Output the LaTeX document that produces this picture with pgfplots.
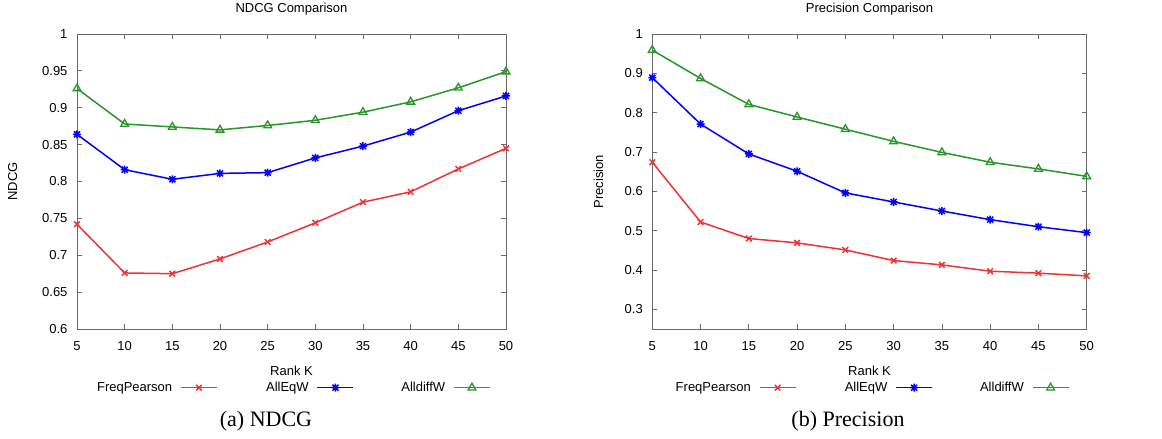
\documentclass[border=0pt]{standalone}
\usepackage{fontspec}
\setmainfont{Liberation Sans}
\newfontfamily\capfont{Liberation Serif}
\usepackage{pgfplots}
\pgfplotsset{compat=1.18}
\definecolor{gpred}{RGB}{240,50,50}
\definecolor{gpblue}{RGB}{0,0,255}
\definecolor{gpgreen}{RGB}{40,150,40}
\definecolor{frame}{RGB}{105,105,105}
\pgfdeclareplotmark{gpstar}{%
  \pgfpathmoveto{\pgfqpoint{-\pgfplotmarksize}{0pt}}\pgfpathlineto{\pgfqpoint{\pgfplotmarksize}{0pt}}%
  \pgfpathmoveto{\pgfqpoint{0pt}{-\pgfplotmarksize}}\pgfpathlineto{\pgfqpoint{0pt}{\pgfplotmarksize}}%
  \pgfpathmoveto{\pgfqpoint{-0.75\pgfplotmarksize}{-0.75\pgfplotmarksize}}\pgfpathlineto{\pgfqpoint{0.75\pgfplotmarksize}{0.75\pgfplotmarksize}}%
  \pgfpathmoveto{\pgfqpoint{-0.75\pgfplotmarksize}{0.75\pgfplotmarksize}}\pgfpathlineto{\pgfqpoint{0.75\pgfplotmarksize}{-0.75\pgfplotmarksize}}%
  \pgfusepathqstroke}
\pgfplotsset{
  gpstyle/.style={
    scale only axis, height=295pt,
    xmin=5, xmax=50, xtick={5,10,...,50},
    axis line style={frame, line width=0.8pt},
    tick style={frame, line width=0.8pt},
    tick align=inside, major tick length=5pt,
    /pgf/number format/assume math mode=true,
    tick label style={font=\fontsize{13}{15}\selectfont, text=black},
    xticklabel style={yshift=-9pt},
    yticklabel style={xshift=-6pt},
    label style={font=\fontsize{13}{15}\selectfont},
    every axis title shift=0pt,
    title style={font=\fontsize{13}{15}\selectfont, at={(axis description cs:0.5,1.0847)}, anchor=center},
    xlabel style={at={(axis description cs:0.5,-0.1413)}, anchor=center},
    xlabel={Rank K},
    legend columns=3,
    legend plot pos=right,
    legend style={draw=none, fill=none, inner sep=0pt, column sep=8pt,
      nodes={inner sep=0pt}, anchor=west,
      font=\fontsize{13}{15}\selectfont},
    legend image code/.code={\draw[mark repeat=2,mark phase=2,##1] plot coordinates {(0pt,0pt) (18pt,0pt) (36pt,0pt)};},
    every axis plot/.append style={line width=1.5pt},
  },
  sred/.style={color=gpred, mark=x, mark size=4pt, mark options={solid, line width=1.5pt}},
  sblue/.style={color=gpblue, mark=gpstar, mark size=4pt, mark options={solid, line width=1.5pt}},
  sgreen/.style={color=gpgreen, mark=triangle, mark size=4.5pt, mark options={solid, line width=1.3pt}},
}
\begin{document}
\begin{tikzpicture}
\useasboundingbox (-77pt,-110pt) rectangle (1085pt,329pt);
\begin{axis}[gpstyle, width=429pt,
  at={(0pt,0pt)}, anchor=south west,
  ymin=0.6, ymax=1, ytick={0.6,0.65,0.7,0.75,0.8,0.85,0.9,0.95,1},
  yticklabels={0.6,0.65,0.7,0.75,0.8,0.85,0.9,0.95,1},
  title={NDCG Comparison}, ylabel={NDCG},
  ylabel style={at={(axis description cs:-0.150,0.5)}, anchor=center},
  legend style={at={(axis description cs:0.028,-0.199)}},
]
\addplot[sred] coordinates {(5,0.742)(10,0.676)(15,0.675)(20,0.695)(25,0.718)(30,0.744)(35,0.772)(40,0.786)(45,0.817)(50,0.845)};
\addlegendentry{\makebox[83pt][r]{FreqPearson}}
\addplot[sblue] coordinates {(5,0.864)(10,0.816)(15,0.803)(20,0.811)(25,0.812)(30,0.832)(35,0.848)(40,0.867)(45,0.896)(50,0.916)};
\addlegendentry{\makebox[83pt][r]{AllEqW}}
\addplot[sgreen] coordinates {(5,0.926)(10,0.878)(15,0.874)(20,0.870)(25,0.876)(30,0.883)(35,0.894)(40,0.908)(45,0.927)(50,0.949)};
\addlegendentry{\makebox[83pt][r]{AlldiffW}}
\end{axis}
\node[font=\capfont\fontsize{22}{26}\selectfont] at (189pt,-92pt) {(a) NDCG};
\begin{axis}[gpstyle, width=434.4pt,
  at={(575.3pt,0pt)}, anchor=south west,
  ymin=0.25, ymax=1, ytick={0.3,0.4,0.5,0.6,0.7,0.8,0.9,1},
  yticklabels={0.3,0.4,0.5,0.6,0.7,0.8,0.9,1},
  title={Precision Comparison}, ylabel={Precision},
  ylabel style={at={(axis description cs:-0.124,0.5)}, anchor=center},
  legend style={at={(axis description cs:0.0354,-0.199)}},
]
\addplot[sred] coordinates {(5,0.674)(10,0.522)(15,0.480)(20,0.469)(25,0.451)(30,0.424)(35,0.413)(40,0.397)(45,0.392)(50,0.385)};
\addlegendentry{\makebox[83pt][r]{FreqPearson}}
\addplot[sblue] coordinates {(5,0.889)(10,0.771)(15,0.695)(20,0.651)(25,0.596)(30,0.573)(35,0.550)(40,0.528)(45,0.510)(50,0.495)};
\addlegendentry{\makebox[83pt][r]{AllEqW}}
\addplot[sgreen] coordinates {(5,0.959)(10,0.887)(15,0.821)(20,0.789)(25,0.758)(30,0.727)(35,0.699)(40,0.674)(45,0.657)(50,0.638)};
\addlegendentry{\makebox[83pt][r]{AlldiffW}}
\end{axis}
\node[font=\capfont\fontsize{22}{26}\selectfont] at (771pt,-92pt) {(b) Precision};
\end{tikzpicture}
\end{document}
